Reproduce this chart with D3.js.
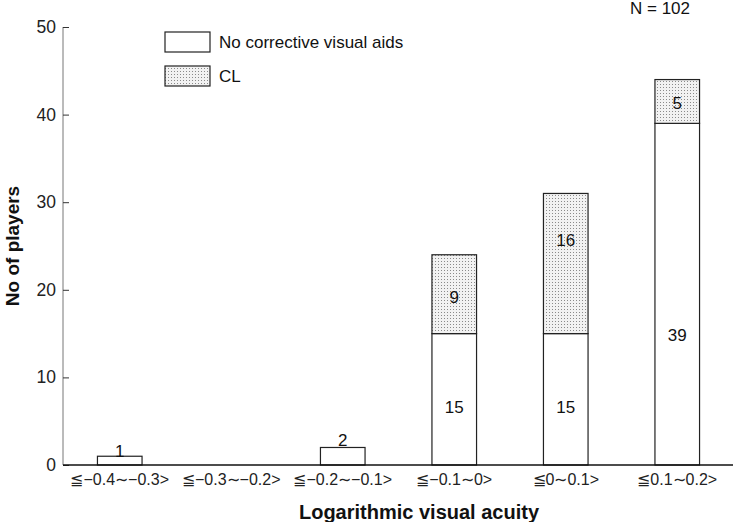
<!DOCTYPE html>
<html>
<head>
<meta charset="utf-8">
<script src="https://cdn.jsdelivr.net/npm/d3@7"></script>
<style>
  body { margin: 0; background: #fff; }
  text { font-family: "Liberation Sans", Arial, sans-serif; }
</style>
</head>
<body>
<div id="chart"></div>
<script>
// data
const categories = ["≦−0.4∼−0.3>", "≦−0.3∼−0.2>", "≦−0.2∼−0.1>", "≦−0.1∼0>", "≦0∼0.1>", "≦0.1∼0.2>"];
const noAids = [1, 0, 2, 15, 15, 39];
const contactLens = [0, 0, 0, 9, 16, 5];
// where each count label sits, in players
const noAidsLabelAt = [1.6, null, 2.8, 6.6, 6.6, 14.8];
const clLabelAt = [null, null, null, 19.2, 25.7, 41.3];
const yTicks = [0, 10, 20, 30, 40, 50];

const W = 733, H = 522;
const margin = {top: 27, right: 0, bottom: 57, left: 64};

const svg = d3.select("#chart").append("svg")
    .attr("width", W).attr("height", H);

// dotted fill for CL
const pat = svg.append("defs").append("pattern")
    .attr("id", "dots").attr("patternUnits", "userSpaceOnUse")
    .attr("width", 3).attr("height", 3);
pat.append("rect").attr("width", 3).attr("height", 3).attr("fill", "#f2f2f2");
pat.append("rect").attr("width", 1).attr("height", 1).attr("fill", "#8a8a8a");

const x = d3.scaleBand().domain(categories)
    .range([margin.left, W - margin.right])
    .paddingInner(0.6).paddingOuter(0.3);
const y = d3.scaleLinear().domain([0, 50]).range([H - margin.bottom, margin.top]);

// y axis (ticks point inward)
const yAxis = svg.append("g")
    .attr("transform", `translate(${margin.left - 1},0)`)
    .call(d3.axisRight(y).tickValues(yTicks).tickSize(6).tickFormat(""));
yAxis.select(".domain").attr("stroke", "#777").attr("d", `M0,${y(50)}V${y(0)}`);
yAxis.selectAll(".tick line").attr("stroke", "#333");
svg.append("g").selectAll("text").data(yTicks).join("text")
    .attr("x", margin.left - 8).attr("y", d => y(d) + 6)
    .attr("text-anchor", "end").attr("font-size", 17.5).attr("fill", "#222")
    .text(d => d);

// bars
const bars = svg.append("g");
categories.forEach((c, i) => {
  if (noAids[i] > 0) {
    bars.append("rect")
      .attr("x", x(c)).attr("width", x.bandwidth())
      .attr("y", y(noAids[i])).attr("height", y(0) - y(noAids[i]))
      .attr("fill", "#fff").attr("stroke", "#222").attr("stroke-width", 1.2);
  }
  if (contactLens[i] > 0) {
    const top = noAids[i] + contactLens[i];
    bars.append("rect")
      .attr("x", x(c)).attr("width", x.bandwidth())
      .attr("y", y(top)).attr("height", y(noAids[i]) - y(top))
      .attr("fill", "url(#dots)").attr("stroke", "#222").attr("stroke-width", 1.2);
  }
});

// count labels
const labels = svg.append("g").attr("font-size", 17).attr("text-anchor", "middle").attr("fill", "#111");
categories.forEach((c, i) => {
  if (noAids[i] > 0) labels.append("text")
      .attr("x", x(c) + x.bandwidth() / 2).attr("y", y(noAidsLabelAt[i]) + 6)
      .text(noAids[i]);
  if (contactLens[i] > 0) labels.append("text")
      .attr("x", x(c) + x.bandwidth() / 2).attr("y", y(clLabelAt[i]) + 6)
      .text(contactLens[i]);
});

// x axis
svg.append("line")
    .attr("x1", margin.left - 1).attr("x2", W)
    .attr("y1", y(0)).attr("y2", y(0))
    .attr("stroke", "#111").attr("stroke-width", 1.3);
svg.append("g").selectAll("text").data(categories).join("text")
    .attr("x", d => x(d) + x.bandwidth() / 2).attr("y", y(0) + 20)
    .attr("text-anchor", "middle").attr("font-size", 16).attr("fill", "#222")
    .text(d => d);

// axis titles
svg.append("text")
    .attr("x", 419).attr("y", 519).attr("text-anchor", "middle")
    .attr("font-size", 20).attr("font-weight", "bold").attr("fill", "#111")
    .text("Logarithmic visual acuity");
svg.append("text")
    .attr("transform", `translate(19,${(y(0) + y(50)) / 2}) rotate(-90)`)
    .attr("text-anchor", "middle")
    .attr("font-size", 19).attr("font-weight", "bold").attr("fill", "#111")
    .text("No of players");

// legend
const legend = svg.append("g").attr("transform", "translate(165,32)");
[["No corrective visual aids", "#fff"], ["CL", "url(#dots)"]].forEach(([name, fill], i) => {
  legend.append("rect").attr("x", 0).attr("y", i * 34)
      .attr("width", 45).attr("height", 20)
      .attr("fill", fill).attr("stroke", "#222").attr("stroke-width", 1.2);
  legend.append("text").attr("x", 54).attr("y", i * 34 + 16)
      .attr("font-size", 17).attr("fill", "#111").text(name);
});

// sample size
svg.append("text").attr("x", 630).attr("y", 14)
    .attr("font-size", 17).attr("fill", "#111").text("N = 102");
</script>
</body>
</html>
